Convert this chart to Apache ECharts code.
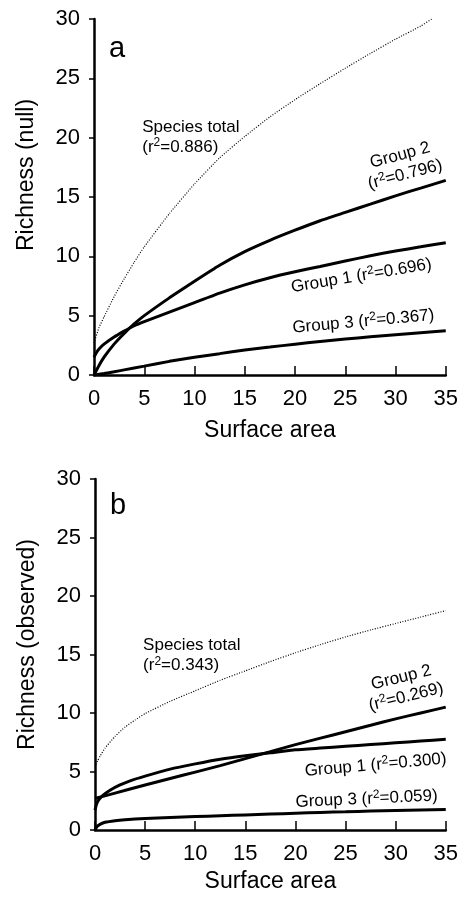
<!DOCTYPE html>
<html>
<head>
<meta charset="utf-8">
<script src="https://cdn.jsdelivr.net/npm/echarts@6/dist/echarts.min.js"></script>
<style>
html, body { margin: 0; padding: 0; background: #fff; }
#main { width: 461px; height: 900px; }
</style>
</head>
<body>
<div id="main"></div>
<script>
// axis ranges
const xMax = 35, xStep = 5;
const yMax = 30, yStep = 5;

// panel a : richness (null)
const totalA_x = [0, 0.5, 1, 2, 3, 4, 5, 7.5, 10, 12.5, 15, 17.5, 20, 22.5, 25, 27.5, 30, 32.5, 33.6];
const totalA_y = [2.7, 4.0, 4.9, 6.6, 8.1, 9.5, 10.8, 13.6, 16.1, 18.3, 20.1, 21.75, 23.2, 24.55, 25.85, 27.1, 28.3, 29.4, 30.0];
const group2A_x = [0, 0.5, 1, 2, 3, 4, 5, 7.5, 10, 12.5, 15, 17.5, 20, 22.5, 25, 27.5, 30, 32.5, 35];
const group2A_y = [0, 0.8, 1.5, 2.6, 3.5, 4.3, 5.0, 6.5, 7.9, 9.25, 10.4, 11.35, 12.2, 13.0, 13.7, 14.4, 15.1, 15.75, 16.4];
const group1A_x = [0, 0.25, 0.5, 1, 2, 3, 4, 5, 7.5, 10, 12.5, 15, 17.5, 20, 22.5, 25, 27.5, 30, 32.5, 35];
const group1A_y = [1.5, 1.9, 2.2, 2.6, 3.2, 3.7, 4.15, 4.5, 5.3, 6.1, 6.9, 7.6, 8.2, 8.7, 9.15, 9.6, 10.05, 10.45, 10.8, 11.15];
const group3A_x = [0, 1, 2, 3, 5, 7.5, 10, 12.5, 15, 17.5, 20, 22.5, 25, 27.5, 30, 32.5, 35];
const group3A_y = [0, 0.12, 0.27, 0.43, 0.75, 1.15, 1.5, 1.8, 2.1, 2.35, 2.6, 2.82, 3.03, 3.22, 3.4, 3.57, 3.73];

// panel b : richness (observed)
const totalB_x = [0, 0.25, 0.5, 1, 2, 3, 4, 5, 7.5, 10, 12.5, 15, 17.5, 20, 22.5, 25, 27.5, 30, 32.5, 35];
const totalB_y = [5.4, 5.9, 6.3, 7.0, 8.0, 8.8, 9.4, 9.95, 11.0, 11.9, 12.8, 13.6, 14.4, 15.15, 15.85, 16.5, 17.1, 17.65, 18.2, 18.75];
const group2B_x = [0, 0.7, 2, 5, 7.5, 10, 12.5, 15, 17.5, 20, 22.5, 25, 27.5, 30, 32.5, 35];
const group2B_y = [2.7, 2.85, 3.15, 3.85, 4.4, 4.95, 5.5, 6.1, 6.7, 7.3, 7.85, 8.4, 8.95, 9.5, 10.0, 10.5];
const group1B_x = [0, 0.15, 0.35, 0.7, 1.5, 2.5, 3.5, 5, 7.5, 10, 12.5, 15, 17.5, 20, 22.5, 25, 27.5, 30, 32.5, 35];
const group1B_y = [1.7, 2.2, 2.55, 2.9, 3.4, 3.85, 4.2, 4.6, 5.2, 5.65, 6.05, 6.35, 6.6, 6.85, 7.0, 7.15, 7.3, 7.45, 7.6, 7.75];
const group3B_x = [0, 0.2, 0.5, 1, 2, 3, 5, 7.5, 10, 12.5, 15, 17.5, 20, 22.5, 25, 27.5, 30, 32.5, 35];
const group3B_y = [0, 0.3, 0.48, 0.66, 0.8, 0.88, 0.98, 1.07, 1.15, 1.22, 1.29, 1.36, 1.43, 1.5, 1.56, 1.62, 1.67, 1.72, 1.76];

const yNames = ['Richness (null)', 'Richness (observed)'];
const xName = 'Surface area';
const panelLetters = ['a', 'b'];

// labels on the curves: [grid, x, y, text, rotation(deg), align]
const notes = [
  [0, 4.8, 20.05, 'Species total\n(r{s|2}=0.886)', 0, 'left'],
  [0, 30.7, 17.7, 'Group 2\n(r{s|2}=0.796)', 15, 'center'],
  [0, 26.6, 8.35, 'Group 1 (r{s|2}=0.696)', 9.5, 'center'],
  [0, 26.8, 4.5, 'Group 3 (r{s|2}=0.367)', 5.2, 'center'],
  [1, 4.8, 14.9, 'Species total\n(r{s|2}=0.343)', 0, 'left'],
  [1, 30.8, 12.2, 'Group 2\n(r{s|2}=0.269)', 14, 'center'],
  [1, 28.0, 5.55, 'Group 1 (r{s|2}=0.300)', 5, 'center'],
  [1, 27.1, 2.65, 'Group 3 (r{s|2}=0.059)', 2.6, 'center']
];

const FONT = '"Liberation Sans", Arial, Helvetica, sans-serif';

function pairs(xs, ys) {
  return xs.map(function (x, i) { return [x, ys[i]]; });
}

function curve(g, xs, ys, dotted) {
  return {
    type: 'line',
    xAxisIndex: g,
    yAxisIndex: g,
    data: pairs(xs, ys),
    showSymbol: false,
    smooth: 0.15,
    silent: true,
    animation: false,
    lineStyle: dotted
      ? { color: '#000', width: 1.2, type: [1, 1.6] }
      : { color: '#000', width: 3 }
  };
}

function xAxisFor(g) {
  return {
    type: 'value', gridIndex: g, min: 0, max: xMax, interval: xStep,
    name: xName, nameLocation: 'middle', nameGap: g === 0 ? 44 : 40,
    nameTextStyle: { fontFamily: FONT, fontSize: 23, color: '#000' },
    axisLine: { lineStyle: { color: '#000', width: 2.5 } },
    axisTick: { inside: true, length: 9, lineStyle: { color: '#000', width: 1.5 } },
    axisLabel: { fontFamily: FONT, fontSize: 22, color: '#000', margin: 13 },
    splitLine: { show: false }
  };
}

function yAxisFor(g) {
  return {
    type: 'value', gridIndex: g, min: 0, max: yMax, interval: yStep,
    name: yNames[g], nameLocation: 'middle', nameGap: 56,
    nameTextStyle: {
      fontFamily: FONT, fontSize: 23, color: '#000',
      padding: g === 0 ? [0, 0, 0, 44] : [0, 0, 0, 20]
    },
    axisLine: { show: true, lineStyle: { color: '#000', width: 2.5 } },
    axisTick: { show: true, length: 5, lineStyle: { color: '#000', width: 1.5 } },
    axisLabel: { fontFamily: FONT, fontSize: 22, color: '#000', margin: 14 },
    splitLine: { show: false }
  };
}

const chart = echarts.init(document.getElementById('main'), null, { renderer: 'canvas' });

chart.setOption({
  backgroundColor: '#fff',
  animation: false,
  grid: [
    { left: 94, top: 19, width: 352, height: 356 },
    { left: 95, top: 479, width: 352, height: 351 }
  ],
  xAxis: [xAxisFor(0), xAxisFor(1)],
  yAxis: [yAxisFor(0), yAxisFor(1)],
  series: [
    curve(0, totalA_x, totalA_y, true),
    curve(0, group2A_x, group2A_y),
    curve(0, group1A_x, group1A_y),
    curve(0, group3A_x, group3A_y),
    curve(1, totalB_x, totalB_y, true),
    curve(1, group2B_x, group2B_y),
    curve(1, group1B_x, group1B_y),
    curve(1, group3B_x, group3B_y)
  ]
});

// put the text on after the axes exist, so it follows the data scale
const graphics = [];
notes.forEach(function (n) {
  const p = chart.convertToPixel({ gridIndex: n[0] }, [n[1], n[2]]);
  graphics.push({
    type: 'text', x: p[0], y: p[1], rotation: n[4] * Math.PI / 180, silent: true,
    style: {
      text: n[3], fill: '#000', fontFamily: FONT, fontSize: 17, lineHeight: 20,
      align: n[5], verticalAlign: 'middle',
      rich: { s: { fontFamily: FONT, fontSize: 12, lineHeight: 12, verticalAlign: 'top' } }
    }
  });
});
panelLetters.forEach(function (t, g) {
  const p = chart.convertToPixel({ gridIndex: g }, [1.5, g === 0 ? 27.5 : 27.7]);
  graphics.push({
    type: 'text', x: p[0], y: p[1], silent: true,
    style: { text: t, fill: '#000', fontFamily: FONT, fontSize: 29, align: 'left', verticalAlign: 'middle' }
  });
});
chart.setOption({ graphic: graphics });
</script>
</body>
</html>
